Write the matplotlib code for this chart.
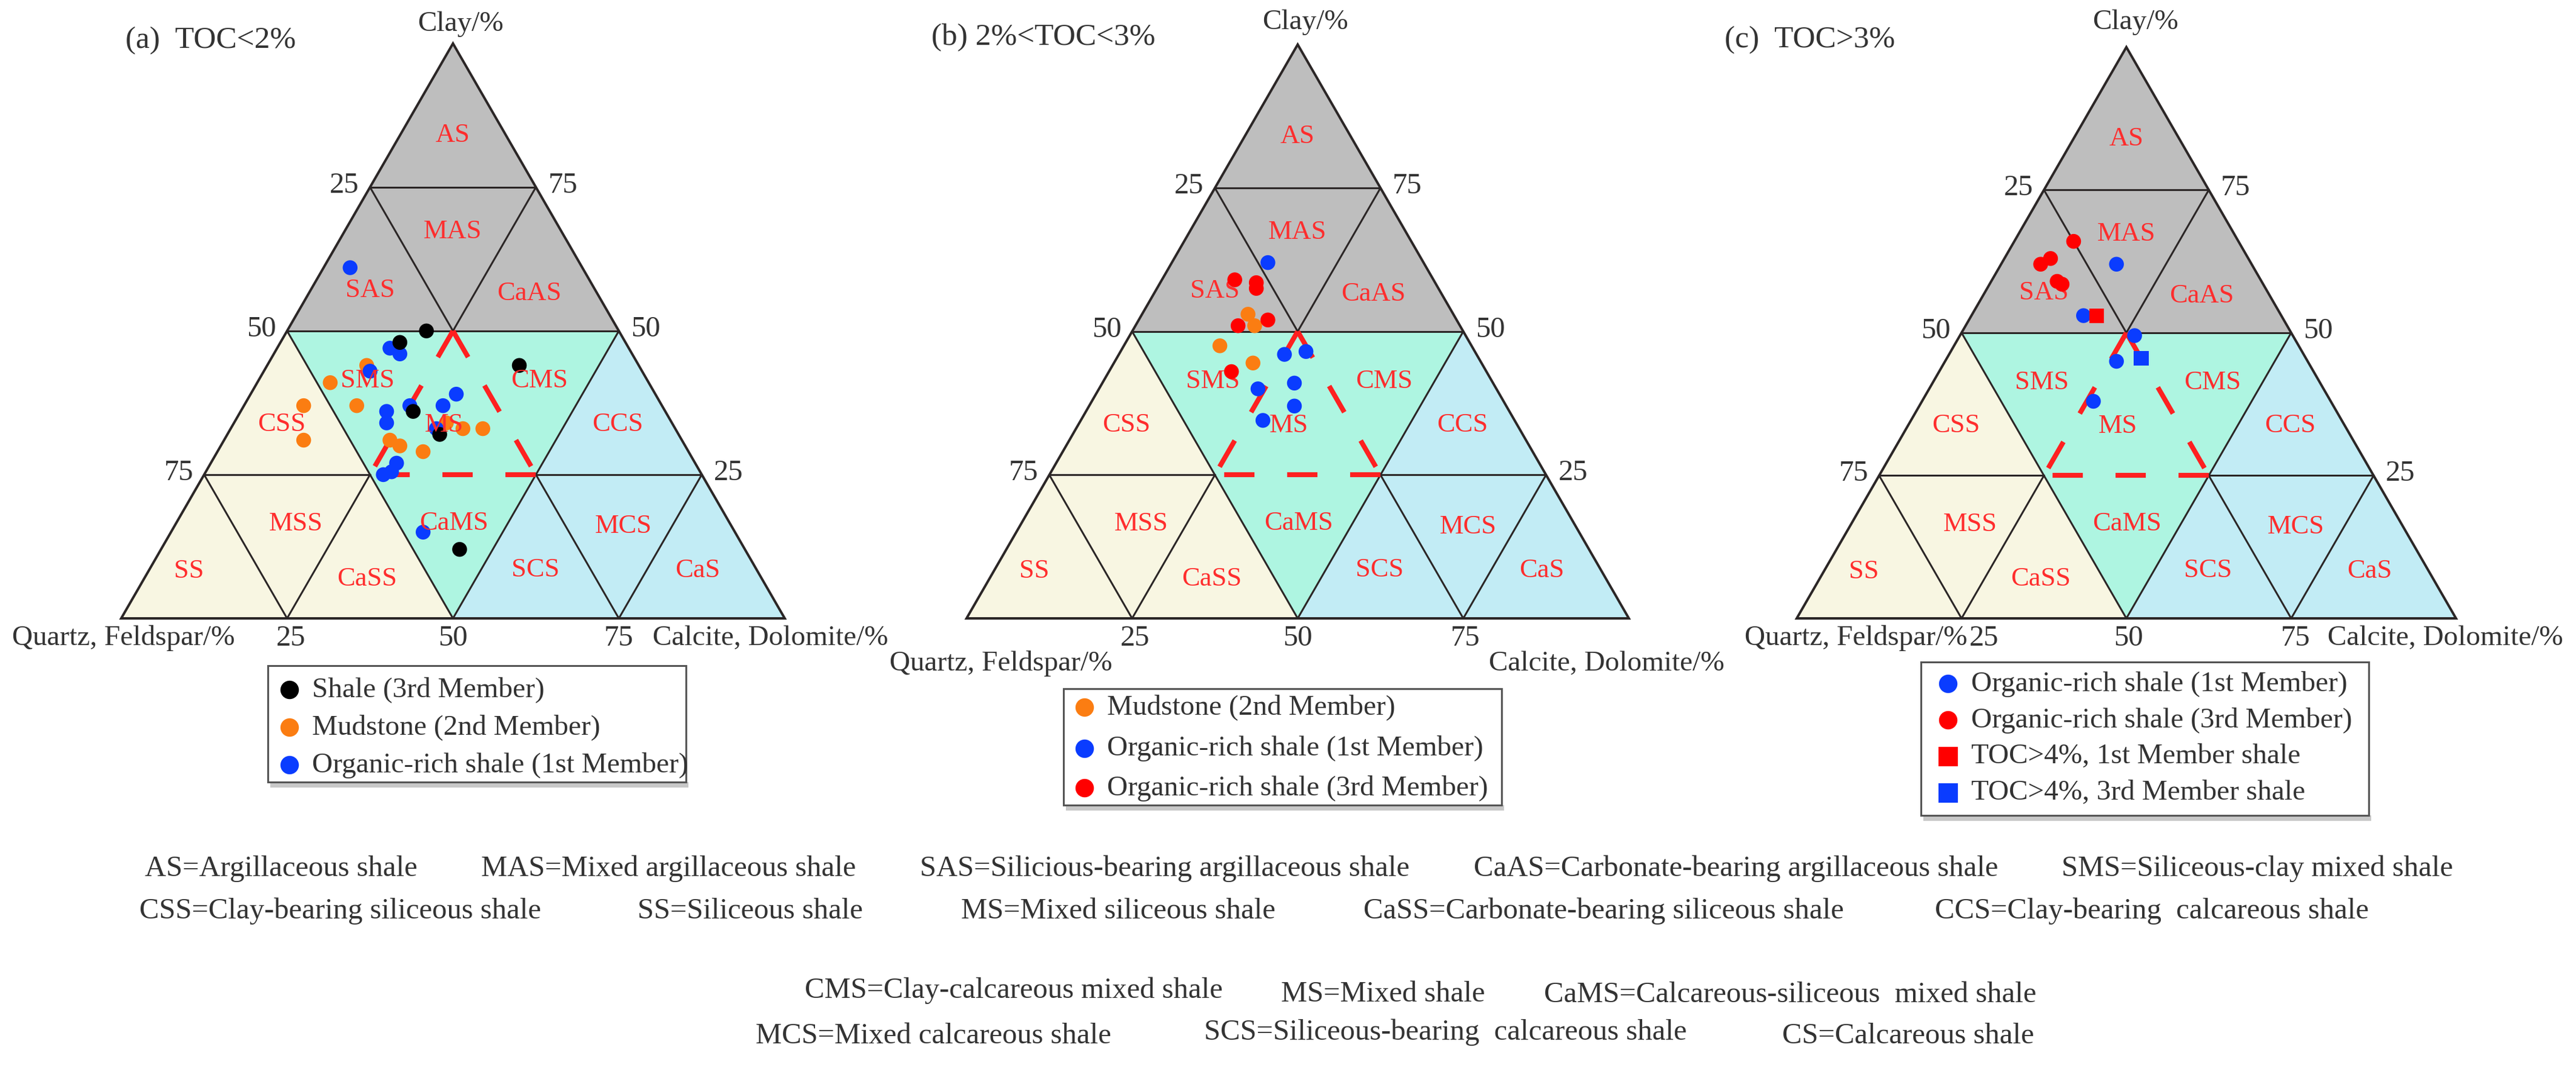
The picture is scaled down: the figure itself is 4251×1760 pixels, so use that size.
import numpy as np
import matplotlib.pyplot as plt
from matplotlib.patches import Polygon, Rectangle

plt.rcParams['font.family'] = ['Liberation Serif', 'DejaVu Serif']

# ---- data: (quartz+feldspar, clay, calcite+dolomite) in % ----
# (a) TOC<2%
a_shale3_q = [34, 29, 18, 38, 36, 43]
a_shale3_cl = [48, 50, 44, 36, 32, 12]
a_shale3_ca = [18, 21, 38, 26, 32, 45]

a_mud2_q = [41, 48, 54, 57, 46, 34, 32, 29, 44, 43, 40]
a_mud2_cl = [44, 41, 37, 31, 37, 34, 33, 33, 31, 30, 29]
a_mud2_ca = [15, 11, 9, 12, 17, 32, 35, 38, 25, 27, 31]

a_org1_q = [35, 36, 35, 41, 42, 43, 38, 33, 30, 36, 48, 45, 46.5, 47]
a_org1_cl = [61, 47, 46, 43, 36, 34, 37, 37, 39, 33, 25, 27, 25.5, 15]
a_org1_ca = [4, 17, 19, 16, 22, 23, 25, 30, 31, 31, 27, 28, 28, 38]

# (b) 2%<TOC<3%
b_mud2_q = [31, 31, 38, 34.5]
b_mud2_cl = [53, 51, 47.5, 44.5]
b_mud2_ca = [16, 18, 14.5, 21]

b_org1_q = [23.5, 29, 25.5, 36, 30, 32, 38]
b_org1_cl = [62, 46, 46.5, 40, 41, 37, 34.5]
b_org1_ca = [14.5, 25, 28, 24, 29, 31, 27.5]

b_org3_q = [30, 27, 27.5, 33.5, 28.5, 38.5]
b_org3_cl = [59, 58.5, 57.5, 51, 52, 43]
b_org3_ca = [11, 14.5, 15, 15.5, 19.5, 18.5]

# (c) TOC>3%
c_org1_q = [20.5, 30, 24, 29, 36]
c_org1_cl = [62, 53, 49.5, 45, 38]
c_org1_ca = [17.5, 17, 26.5, 26, 26]

c_org3_q = [25, 30, 32, 31, 30.5]
c_org3_cl = [66, 63, 62, 59, 58.5]
c_org3_ca = [9, 7, 6, 10, 11]

c_toc4_m1_q = [28]
c_toc4_m1_cl = [53]
c_toc4_m1_ca = [19]

c_toc4_m3_q = [25]
c_toc4_m3_cl = [45.5]
c_toc4_m3_ca = [29.5]

# ---- classification scheme ----
region_names = ['AS', 'MAS', 'SAS', 'CaAS', 'SMS', 'CMS', 'MS', 'CaMS',
                'CSS', 'MSS', 'SS', 'CaSS', 'CCS', 'SCS', 'MCS', 'CaS']
region_pos = [(8, 84, 8), (16.4, 67.3, 16.3), (34, 57, 9), (10.3, 56.5, 33.2),
              (42.2, 41.3, 16.5), (16.3, 41.3, 42.4), (34.5, 33.6, 31.9),
              (41.6, 16.6, 41.8), (59, 33.7, 7.3), (65.4, 16.5, 18.1),
              (85.7, 8.2, 6.1), (59.5, 6.9, 33.6), (8.3, 33.7, 58),
              (33.4, 8.4, 58.2), (16.3, 16, 67.7), (9, 8.3, 82.7)]

abbrev_rows = [
    [("AS=Argillaceous shale", 239, 1433),
     ("MAS=Mixed argillaceous shale", 794, 1433),
     ("SAS=Silicious-bearing argillaceous shale", 1518, 1433),
     ("CaAS=Carbonate-bearing argillaceous shale", 2432, 1433),
     ("SMS=Siliceous-clay mixed shale", 3402, 1433)],
    [("CSS=Clay-bearing siliceous shale", 230, 1503),
     ("SS=Siliceous shale", 1052, 1503),
     ("MS=Mixed siliceous shale", 1586, 1503),
     ("CaSS=Carbonate-bearing siliceous shale", 2250, 1503),
     ("CCS=Clay-bearing  calcareous shale", 3193, 1503)],
    [("CMS=Clay-calcareous mixed shale", 1328, 1634),
     ("MS=Mixed shale", 2114, 1640),
     ("CaMS=Calcareous-siliceous  mixed shale", 2548, 1641)],
    [("MCS=Mixed calcareous shale", 1247, 1709),
     ("SCS=Siliceous-bearing  calcareous shale", 1987, 1703),
     ("CS=Calcareous shale", 2941, 1709)],
]

GRAY = '#bebebe'
CREAM = '#f8f6e2'
MINT = '#aef5e1'
LBLUE = '#c2ecf5'
LINE = '#2b2626'
TXT = '#333333'
LABRED = '#ff2d2d'
C_BLACK = '#000000'
C_ORANGE = '#fb7d12'
C_BLUE = '#0a3cff'
C_RED = '#ff0000'

fig = plt.figure(figsize=(42.51, 17.6), dpi=100)
ax = fig.add_axes([0, 0, 1, 1])
ax.set_xlim(0, 4251)
ax.set_ylim(1760, 0)
ax.axis('off')


def tern(panel, q, cl, ca):
    x0, y0, s = panel
    q = np.asarray(q, float); cl = np.asarray(cl, float); ca = np.asarray(ca, float)
    tot = q + cl + ca
    x = x0 + s * (ca + cl / 2) / tot
    y = y0 - s * np.sqrt(3) / 2 * cl / tot
    return x, y


def draw_base(panel, text_on_top):
    def P(*pts):
        return [tern(panel, *p) for p in pts]
    fills = [(GRAY, [(0, 100, 0), (50, 50, 0), (0, 50, 50)]),
             (CREAM, [(100, 0, 0), (50, 50, 0), (50, 0, 50)]),
             (MINT, [(50, 50, 0), (0, 50, 50), (50, 0, 50)]),
             (LBLUE, [(0, 50, 50), (50, 0, 50), (0, 0, 100)])]
    for col, pts in fills:
        ax.add_patch(Polygon(P(*pts), closed=True, facecolor=col, edgecolor='none', zorder=1))
    segs = [((25, 75, 0), (0, 75, 25)), ((50, 50, 0), (0, 50, 50)),
            ((25, 75, 0), (25, 50, 25)), ((0, 75, 25), (25, 50, 25)),
            ((75, 25, 0), (50, 25, 25)), ((75, 25, 0), (75, 0, 25)), ((75, 0, 25), (50, 25, 25)),
            ((25, 25, 50), (0, 25, 75)), ((0, 25, 75), (25, 0, 75)), ((25, 0, 75), (25, 25, 50)),
            ((50, 50, 0), (50, 0, 50)), ((0, 50, 50), (50, 0, 50))]
    for p1, p2 in segs:
        (xa, ya), (xb, yb) = P(p1, p2)
        ax.plot([xa, xb], [ya, yb], color=LINE, lw=2.2, zorder=2, solid_capstyle='round')
    outer = P((100, 0, 0), (0, 100, 0), (0, 0, 100))
    ax.add_patch(Polygon(outer, closed=True, facecolor='none', edgecolor=LINE, lw=2.9,
                         joinstyle='miter', zorder=3))
    # MS dashed triangle
    apex, bl, br = P((25, 50, 25), (50, 25, 25), (25, 25, 50))
    for pa, pb in [(apex, bl), (apex, br), (br, bl)]:
        ax.plot([pa[0], pb[0]], [pa[1], pb[1]], color='#ff2020', lw=5.8,
                dashes=(6.2, 6.7), solid_capstyle='butt', dash_capstyle='butt', zorder=3)
    tz = 6 if text_on_top else 4
    for name, pos in zip(region_names, region_pos):
        x, y = tern(panel, *pos)
        ax.text(x, y, name, color=LABRED, fontsize=32, ha='center', va='center', zorder=tz)
    # tick labels
    for v in (25, 50, 75):
        x, y = tern(panel, v, 100 - v, 0)
        ax.text(x - 18, y - 3, str(v), color=TXT, fontsize=35, ha='right', va='center')
        x, y = tern(panel, 0, v, 100 - v)
        ax.text(x + 20, y - 3, str(v), color=TXT, fontsize=35, ha='left', va='center')


def scatter(panel, q, cl, ca, color, marker='o', size=310):
    x, y = tern(panel, q, cl, ca)
    ax.scatter(x, y, s=size, c=color, marker=marker, edgecolors='none', zorder=5)


def legend(box, entries, mx, tx, rows):
    x0, y0, x1, y1 = box
    ax.add_patch(Rectangle((x0 + 4, y1), x1 - x0, 9, facecolor='#c8c8c8', edgecolor='none', zorder=6))
    ax.add_patch(Rectangle((x0, y0), x1 - x0, y1 - y0, facecolor='white', edgecolor='#555555',
                           lw=2.2, zorder=7))
    for (label, color, marker), ry in zip(entries, rows):
        sz = 480 if marker == 'o' else 560
        ax.scatter([mx], [ry], s=sz, c=color, marker=marker, edgecolors='none', zorder=8)
        ax.text(tx, ry, label, fontsize=34, color=TXT, ha='left', va='center', zorder=8)


pa = (200, 1020, 1095)
pb = (1595, 1020, 1093)
pc = (2965, 1020, 1088)

# ---- panel a ----
draw_base(pa, True)
scatter(pa, a_mud2_q, a_mud2_cl, a_mud2_ca, C_ORANGE)
scatter(pa, a_org1_q, a_org1_cl, a_org1_ca, C_BLUE)
scatter(pa, a_shale3_q, a_shale3_cl, a_shale3_ca, C_BLACK)
ax.text(207, 67, "(a)  TOC<2%", fontsize=37, color=TXT, ha='left', va='center')
ax.text(760, 40, "Clay/%", fontsize=34, color=TXT, ha='center', va='center')
ax.text(20, 1053, "Quartz, Feldspar/%", fontsize=34, color=TXT, ha='left', va='center')
ax.text(1077, 1053, "Calcite, Dolomite/%", fontsize=34, color=TXT, ha='left', va='center')
for v, dx in zip((25, 50, 75), (6, 0, 0)):
    x, y = tern(pa, 100 - v, 0, v)
    ax.text(x + dx, 1053, str(v), fontsize=35, color=TXT, ha='center', va='center')
legend((442, 1098, 1132, 1290),
       [("Shale (3rd Member)", C_BLACK, 'o'),
        ("Mudstone (2nd Member)", C_ORANGE, 'o'),
        ("Organic-rich shale (1st Member)", C_BLUE, 'o')],
       478, 515, [1138, 1200, 1262])

# ---- panel b ----
draw_base(pb, False)
scatter(pb, b_mud2_q, b_mud2_cl, b_mud2_ca, C_ORANGE)
scatter(pb, b_org1_q, b_org1_cl, b_org1_ca, C_BLUE)
scatter(pb, b_org3_q, b_org3_cl, b_org3_ca, C_RED)
ax.text(1537, 62, "(b) 2%<TOC<3%", fontsize=37, color=TXT, ha='left', va='center')
ax.text(2154, 37, "Clay/%", fontsize=34, color=TXT, ha='center', va='center')
ax.text(1652, 1095, "Quartz, Feldspar/%", fontsize=34, color=TXT, ha='center', va='center')
ax.text(2457, 1095, "Calcite, Dolomite/%", fontsize=34, color=TXT, ha='left', va='center')
for v, dx in zip((25, 50, 75), (5, 0, 3)):
    x, y = tern(pb, 100 - v, 0, v)
    ax.text(x + dx, 1053, str(v), fontsize=35, color=TXT, ha='center', va='center')
legend((1755, 1136, 2478, 1328),
       [("Mudstone (2nd Member)", C_ORANGE, 'o'),
        ("Organic-rich shale (1st Member)", C_BLUE, 'o'),
        ("Organic-rich shale (3rd Member)", C_RED, 'o')],
       1790, 1827, [1167, 1235, 1300])

# ---- panel c ----
draw_base(pc, False)
scatter(pc, c_org3_q, c_org3_cl, c_org3_ca, C_RED)
scatter(pc, c_org1_q, c_org1_cl, c_org1_ca, C_BLUE)
scatter(pc, c_toc4_m1_q, c_toc4_m1_cl, c_toc4_m1_ca, C_RED, marker='s', size=300)
scatter(pc, c_toc4_m3_q, c_toc4_m3_cl, c_toc4_m3_ca, C_BLUE, marker='s', size=300)
ax.text(2846, 66, "(c)  TOC>3%", fontsize=37, color=TXT, ha='left', va='center')
ax.text(3524, 37, "Clay/%", fontsize=34, color=TXT, ha='center', va='center')
ax.text(2879, 1053, "Quartz, Feldspar/%", fontsize=34, color=TXT, ha='left', va='center')
ax.text(3841, 1053, "Calcite, Dolomite/%", fontsize=34, color=TXT, ha='left', va='center')
for v, dx in zip((25, 50, 75), (37, 3, 7)):
    x, y = tern(pc, 100 - v, 0, v)
    ax.text(x + dx, 1053, str(v), fontsize=35, color=TXT, ha='center', va='center')
legend((3170, 1092, 3909, 1345),
       [("Organic-rich shale (1st Member)", C_BLUE, 'o'),
        ("Organic-rich shale (3rd Member)", C_RED, 'o'),
        ("TOC>4%, 1st Member shale", C_RED, 's'),
        ("TOC>4%, 3rd Member shale", C_BLUE, 's')],
       3215, 3253, [1128, 1188, 1248, 1308])

# ---- abbreviations ----
for row in abbrev_rows:
    for txt, x, y in row:
        ax.text(x, y, txt, fontsize=35, color=TXT, ha='left', va='center')

fig.savefig('out.png', dpi=100)
